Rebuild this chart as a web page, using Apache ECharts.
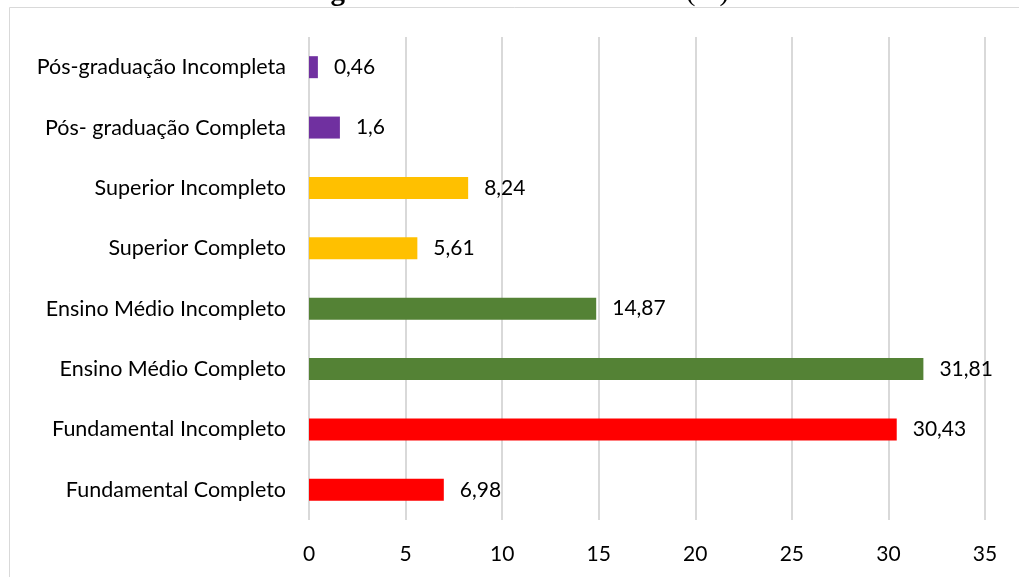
<!DOCTYPE html>
<html>
<head>
<meta charset="utf-8">
<script src="https://cdn.jsdelivr.net/npm/echarts@6/dist/echarts.min.js"></script>
<style>
  html, body { margin: 0; padding: 0; background: #ffffff; }
  #chart { width: 1019px; height: 577px; }
</style>
</head>
<body>
<div id="chart"></div>
<script>
// Education level of respondents (%), listed bottom to top
const categories = [
  'Fundamental Completo',
  'Fundamental Incompleto',
  'Ensino Médio Completo',
  'Ensino Médio Incompleto',
  'Superior Completo',
  'Superior Incompleto',
  'Pós- graduação Completa',
  'Pós-graduação Incompleta'
];
const values = [6.98, 30.43, 31.81, 14.87, 5.61, 8.24, 1.6, 0.46];
const barColors = ['#ff0000', '#ff0000', '#548235', '#548235', '#ffc000', '#ffc000', '#7030a0', '#7030a0'];
const xTicks = [0, 5, 10, 15, 20, 25, 30, 35];

const labelFont = 'Lato, "Open Sans", "Liberation Sans", sans-serif';
const labelSize = 21;

const chart = echarts.init(document.getElementById('chart'), null, { renderer: 'canvas' });

chart.setOption({
  animation: false,
  backgroundColor: '#ffffff',
  graphic: [
    {
      type: 'rect',
      silent: true,
      shape: { x: 9.5, y: 7.5, width: 1030, height: 600 },
      style: { fill: 'none', stroke: '#d9d9d9', lineWidth: 1 }
    },
    {
      type: 'text',
      silent: true,
      x: 517,
      y: 7,
      style: {
        text: '{b|Figura 3:} Nível de escolaridade (%)',
        align: 'center',
        verticalAlign: 'bottom',
        rich: {
          b: { fontFamily: '"Liberation Serif", serif', fontSize: 29, fontWeight: 'bold', fill: '#000' }
        },
        fontFamily: '"Liberation Serif", serif',
        fontSize: 29,
        fill: '#000'
      }
    }
  ],
  grid: { left: 309, top: 37, width: 676, height: 483, containLabel: false },
  xAxis: {
    type: 'value',
    min: xTicks[0],
    max: xTicks[xTicks.length - 1],
    interval: 5,
    axisLine: { show: false },
    axisTick: { show: false },
    axisLabel: { color: '#000', fontSize: labelSize, fontFamily: labelFont, margin: 24 },
    splitLine: { show: true, lineStyle: { color: '#d9d9d9', width: 2 } }
  },
  yAxis: {
    type: 'category',
    data: categories,
    axisLine: { show: false },
    axisTick: { show: false },
    axisLabel: { color: '#000', fontSize: 21.5, fontFamily: labelFont, margin: 23 }
  },
  series: [{
    type: 'bar',
    barWidth: 22,
    data: values.map((v, i) => ({ value: v, itemStyle: { color: barColors[i] } })),
    label: {
      show: true,
      position: 'right',
      distance: 16,
      color: '#000',
      fontSize: labelSize,
      fontFamily: labelFont,
      formatter: p => String(p.value).replace('.', ',')
    }
  }]
});
</script>
</body>
</html>
